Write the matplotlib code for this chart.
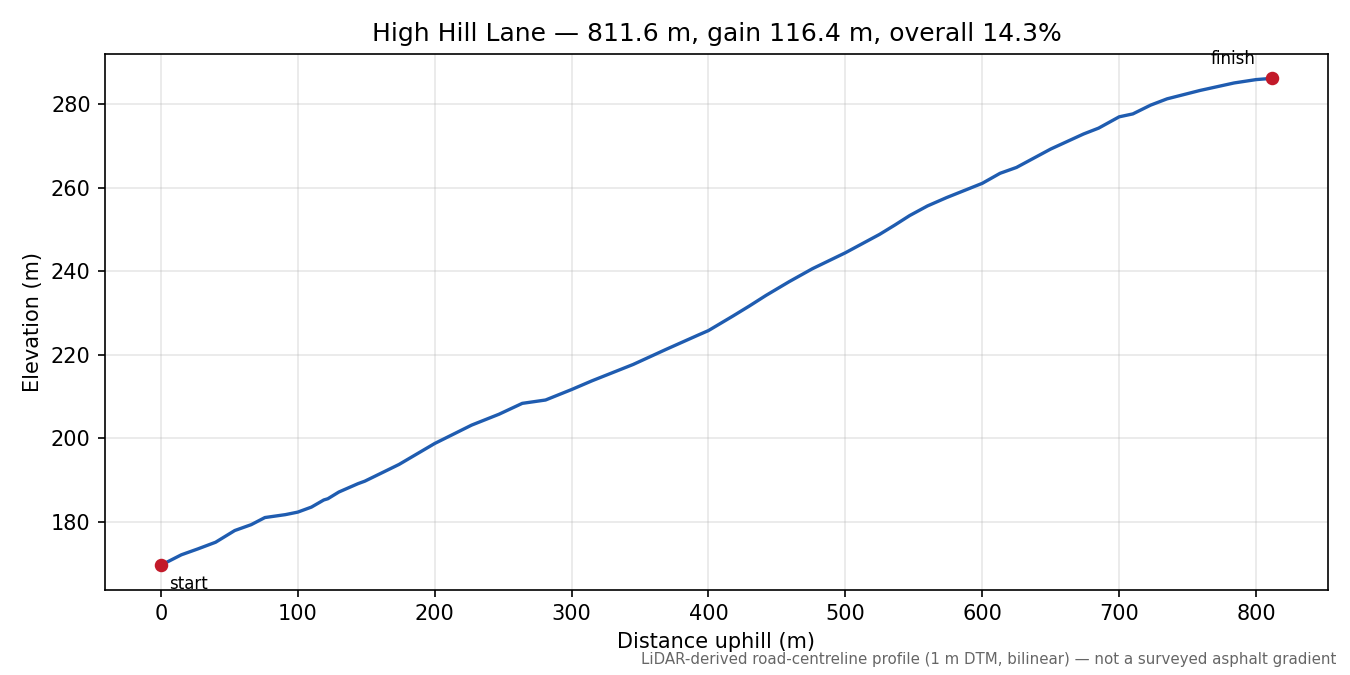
import numpy as np
import matplotlib
matplotlib.use("Agg")
import matplotlib.pyplot as plt

# profile (distance uphill m, elevation m)
dist = [0, 15, 27, 40, 54, 66, 76, 91, 100, 110, 119, 122, 130, 144, 149,
        174, 200, 227, 247, 264, 281, 300, 315, 345, 369, 393, 400, 418,
        430, 442, 459, 476, 500, 525, 536, 547, 560, 574, 600, 613, 625,
        650, 674, 685, 700, 710, 723, 735, 759, 784, 800, 811.6]
elev = [169.7, 172.2, 173.6, 175.2, 178.0, 179.4, 181.1, 181.8, 182.4,
        183.6, 185.3, 185.6, 187.2, 189.2, 189.8, 193.8, 198.8, 203.2,
        205.8, 208.4, 209.2, 211.7, 213.8, 217.7, 221.3, 224.8, 225.8,
        229.3, 231.7, 234.2, 237.5, 240.6, 244.4, 248.8, 251.0, 253.3,
        255.6, 257.6, 261.0, 263.4, 264.8, 269.2, 272.8, 274.2, 276.9,
        277.6, 279.7, 281.2, 283.2, 285.0, 285.8, 286.1]

name = "High Hill Lane"
length = dist[-1]
gain = elev[-1] - elev[0]

fig, ax = plt.subplots(figsize=(9, 4.5), dpi=150)
ax.plot(dist, elev, color="#1f5cb0", lw=1.6)
ax.scatter([dist[0], dist[-1]], [elev[0], elev[-1]], color="#c21a2a", s=30, zorder=3)
ax.annotate("start", (dist[0], elev[0]), xytext=(4, -4.5), textcoords="offset points",
            ha="left", va="top", fontsize=8)
ax.annotate("finish", (dist[-1], elev[-1]), xytext=(-8, 5), textcoords="offset points",
            ha="right", va="bottom", fontsize=8)

ax.set_title(f"{name} \u2014 {length:.1f} m, gain {gain:.1f} m, overall {gain / length * 100:.1f}%",
             fontsize=12)
ax.set_xlabel("Distance uphill (m)")
ax.set_ylabel("Elevation (m)")
ax.grid(True, alpha=0.3)

fig.tight_layout()
fig.text(0.99, 0.012, "LiDAR-derived road-centreline profile (1 m DTM, bilinear) \u2014 not a surveyed asphalt gradient",
         ha="right", va="bottom", fontsize=7.2, color="#666666")
fig.savefig("out.png", dpi=150)
